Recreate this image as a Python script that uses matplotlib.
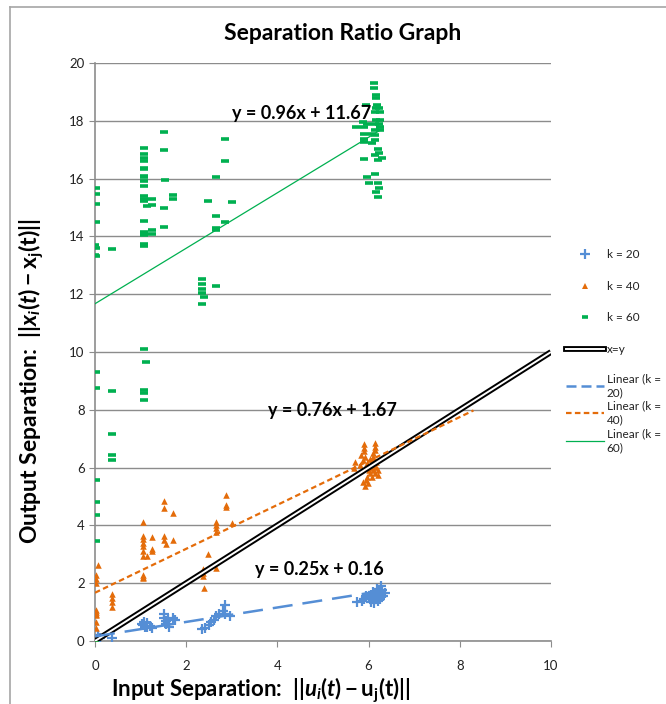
import numpy as np
import matplotlib
matplotlib.use("Agg")
import matplotlib.pyplot as plt
from matplotlib.lines import Line2D

plt.rcParams['font.family'] = ['Lato', 'DejaVu Sans']
plt.rcParams['mathtext.fontset'] = 'custom'
plt.rcParams['mathtext.rm'] = 'Lato:bold'
plt.rcParams['mathtext.bf'] = 'Lato:bold'
plt.rcParams['mathtext.it'] = 'Lato:italic:bold'

# ---- data ----
k20_x = [0.0, 0.07, 0.10, 0.38,
         1.02, 1.06, 1.10, 1.15, 1.20, 1.25, 1.07, 1.13,
         1.52, 1.52, 1.55, 1.55, 1.60, 1.70, 1.75, 1.62,
         2.35, 2.42, 2.50, 2.55, 2.62, 2.65, 2.72, 2.80, 2.85, 2.85, 2.95,
         5.75, 5.85, 5.90, 5.95, 6.00, 6.05, 6.08, 6.10, 6.12, 6.15, 6.18,
         6.20, 6.22, 6.25, 6.28, 6.30, 6.32, 6.20, 6.05, 6.35, 6.12, 6.26]
k20_y = [0.03, 0.21, 0.09, 0.12,
         0.60, 0.55, 0.50, 0.48, 0.52, 0.46, 0.66, 0.62,
         0.92, 0.80, 0.70, 0.58, 0.75, 0.80, 0.72, 0.50,
         0.40, 0.45, 0.55, 0.65, 0.72, 0.85, 0.92, 1.05, 1.25, 0.95, 0.88,
         1.35, 1.40, 1.45, 1.55, 1.50, 1.60, 1.45, 1.70, 1.55, 1.65, 1.80,
         1.50, 1.70, 1.60, 1.90, 1.75, 1.55, 1.40, 1.35, 1.65, 1.30, 1.45]

k40_x = [0.07, 0.02, 0.02, 0.02, 0.02, 0.02, 0.02, 0.02, 0.02, 0.02, 0.02, 0.02,
         0.38, 0.38, 0.38, 0.38,
         1.06, 1.06, 1.06, 1.06, 1.06, 1.06, 1.06, 1.06, 1.06, 1.06, 1.13,
         1.26, 1.26, 1.26, 1.51, 1.51, 1.51, 1.51, 1.56, 1.72, 1.72,
         2.36, 2.36, 2.36, 2.40, 2.48, 2.65, 2.66, 2.66, 2.66, 2.66,
         2.87, 2.87, 2.87, 3.00,
         5.91, 5.91, 5.90, 6.14, 6.14, 6.13, 6.10, 6.09, 6.07, 6.12, 6.16, 6.05,
         6.02, 6.10, 6.17, 6.00, 6.10, 6.21, 6.04, 6.14, 5.96, 6.07, 6.21, 5.95,
         5.88, 5.99, 5.92, 5.70, 5.81, 5.67, 5.88, 5.92, 5.84, 5.96, 6.02]
k40_y = [2.63, 2.28, 2.15, 2.00, 1.07, 1.01, 0.95, 0.90, 0.67, 0.44, 0.15, 0.05,
         1.63, 1.48, 1.36, 1.19,
         4.13, 3.63, 3.52, 3.40, 3.29, 3.10, 2.93, 2.28, 2.22, 2.17, 2.94,
         3.59, 3.20, 3.10, 4.85, 4.59, 3.63, 3.49, 3.36, 4.44, 3.49,
         2.48, 2.36, 2.25, 1.82, 3.01, 2.51, 4.13, 4.01, 3.90, 3.78,
         5.05, 4.71, 4.63, 4.07,
         6.82, 6.67, 6.58, 6.84, 6.72, 6.61, 6.49, 6.38, 6.29, 6.20, 6.20, 6.15,
         6.03, 6.03, 6.03, 5.92, 5.92, 5.92, 5.80, 5.80, 5.69, 5.69, 5.74, 5.57,
         5.51, 5.46, 5.36, 6.20, 6.09, 5.98, 6.26, 6.38, 6.44, 6.17, 6.29]

k60_x = [0.02, 0.03, 0.03, 0.02, 0.00, 0.02, 0.00, 0.02, 0.03, 0.03,
         0.02, 0.02, 0.02, 0.02, 0.00,
         0.38, 0.38, 0.38, 0.38, 0.38,
         1.07, 1.07, 1.07, 1.07, 1.07, 1.07, 1.07, 1.07, 1.07, 1.07, 1.07, 1.07,
         1.07, 1.07, 1.07, 1.07, 1.07, 1.07, 1.07, 1.07, 1.07, 1.07, 1.07,
         1.12, 1.15, 1.26, 1.26, 1.26, 1.26,
         1.51, 1.51, 1.51, 1.51, 1.54, 1.70, 1.70,
         2.35, 2.35, 2.35, 2.35, 2.39, 2.35, 2.47,
         2.65, 2.65, 2.65, 2.65, 2.65, 2.86, 2.86, 2.86, 3.01,
         6.11, 6.12, 6.16, 6.17, 5.94, 6.19, 6.16, 6.22, 6.14, 6.24, 5.87, 6.17,
         6.24, 5.96, 6.13, 6.22, 6.24, 5.72, 5.91, 6.13, 6.24, 5.89, 6.08, 6.15,
         5.89, 5.89, 6.15, 6.08, 6.20, 6.22, 6.15, 6.29, 6.20, 5.89, 6.15, 5.96,
         6.00, 6.21, 6.22, 6.21, 6.17]
k60_y = [15.69, 15.47, 15.11, 14.51, 13.70, 13.59, 13.36, 13.32, 9.30, 8.75,
         5.58, 4.81, 4.35, 3.47, 0.05,
         13.58, 8.64, 7.15, 6.44, 6.26,
         17.07, 16.86, 16.72, 16.61, 16.38, 16.32, 16.09, 16.07, 15.93, 15.75, 15.40,
         15.28, 15.24, 14.53, 14.15, 14.08, 14.04, 13.74, 13.67, 10.10, 8.69, 8.57, 8.33,
         9.66, 15.04, 15.28, 15.08, 14.22, 14.08,
         17.60, 16.99, 14.99, 14.33, 15.96, 15.42, 15.30,
         12.52, 12.34, 12.17, 12.05, 11.91, 11.66, 15.21,
         16.07, 14.71, 14.28, 14.23, 12.27, 17.38, 16.60, 14.50, 15.20,
         19.30, 19.12, 18.91, 18.79, 18.54, 18.56, 18.45, 18.45, 18.31, 18.31, 17.97, 18.04,
         18.04, 17.90, 17.88, 17.90, 17.79, 17.77, 17.77, 17.68, 17.68, 17.56, 17.56, 17.51,
         17.36, 17.28, 17.34, 17.22, 17.01, 16.90, 16.82, 16.70, 16.65, 16.67, 16.16, 16.05,
         15.86, 15.84, 15.67, 15.36, 15.52]

# linear trendlines (slope, intercept) as printed on the chart
k20_fit = (0.25, 0.16)
k40_fit = (0.76, 1.67)
k60_fit = (0.96, 11.67)
k40_forecast_end = 8.3

identity_x = [0, 10]

blue = '#558ED5'
orange = '#E46C0A'
green = '#00B050'
grid_c = '#8C8C8C'

fig = plt.figure(figsize=(6.66, 7.04), dpi=100)
ax = fig.add_axes([95 / 666, 1 - 641 / 704, 456 / 666, 578 / 704])

ax.scatter(k20_x, k20_y, marker='+', s=55, linewidths=1.6, color=blue, zorder=3)
ax.scatter(k40_x, k40_y, marker='^', s=22, linewidths=0, color=orange, zorder=3)
ax.scatter(k60_x, k60_y, marker='_', s=28, linewidths=2.6, color=green, zorder=3)

# x=y double line
ax.plot(identity_x, identity_x, color='black', lw=4.2, zorder=4, solid_capstyle='butt')
ax.plot(identity_x, identity_x, color='white', lw=1.4, zorder=4, solid_capstyle='butt')

def trend(fit, x_end):
    xs = np.array([0, x_end])
    return xs, fit[0] * xs + fit[1]

tx, ty = trend(k20_fit, max(k20_x))
ax.plot(tx, ty, color=blue, lw=1.8, dashes=(8, 4), zorder=5)
tx, ty = trend(k40_fit, k40_forecast_end)
ax.plot(tx, ty, color=orange, lw=1.6, dashes=(2.5, 1.5), zorder=5)
tx, ty = trend(k60_fit, max(k60_x))
ax.plot(tx, ty, color=green, lw=0.9, zorder=5)

ax.text(4.93, 2.46, 'y = 0.25x + 0.16', fontsize=13, fontweight='bold', ha='center', va='center')
ax.text(5.2, 7.96, 'y = 0.76x + 1.67', fontsize=13, fontweight='bold', ha='center', va='center')
ax.text(4.54, 18.25, 'y = 0.96x + 11.67', fontsize=13, fontweight='bold', ha='center', va='center')

ax.set_xlim(0, 10)
ax.set_ylim(0, 20)
ax.set_xticks(range(0, 11, 2))
ax.set_yticks(range(0, 21, 2))
ax.yaxis.grid(True, color=grid_c, lw=1)
ax.set_axisbelow(True)
for s in ['top', 'right']:
    ax.spines[s].set_visible(False)
for s in ['left', 'bottom']:
    ax.spines[s].set_color(grid_c)
    ax.spines[s].set_linewidth(1.2)
ax.tick_params(axis='both', length=4, color=grid_c, labelsize=9.5, labelcolor='#222222')
ax.tick_params(axis='x', pad=10)

ax.set_xlabel(r'Input Separation:  $||\mathit{u_i(t)} - \mathrm{u_j(t)}||$',
              fontsize=16, fontweight='bold')
ax.set_ylabel(r'Output Separation:  $||\mathit{x_i(t)} - \mathrm{x_j(t)}||$',
              fontsize=16.5, fontweight='bold')
ax.xaxis.set_label_coords(0.363, -0.06)
ax.yaxis.set_label_coords(-0.108, 0.45)

fig.text(343 / 666, 1 - 33 / 704, 'Separation Ratio Graph', fontsize=16.5,
         fontweight='bold', ha='center', va='center')

# legends
h1 = [Line2D([], [], ls='none', marker='+', ms=7, mew=1.6, color=blue),
      Line2D([], [], ls='none', marker='^', ms=4.5, mew=0, color=orange),
      Line2D([], [], ls='none', marker='_', ms=5, mew=2.6, color=green),
      (Line2D([], [], color='black', lw=4.2), Line2D([], [], color='white', lw=1.4))]
leg1 = fig.legend(h1, ['k = 20', 'k = 40', 'k = 60', 'x=y'], loc='upper left',
                  bbox_to_anchor=(566 / 666, 1 - 249 / 704), frameon=False,
                  fontsize=8.5, handlelength=3.2, handletextpad=0.25, borderpad=0,
                  labelspacing=1.75, borderaxespad=0)
h2 = [Line2D([], [], color=blue, lw=1.8, dashes=(4, 2)),
      Line2D([], [], color=orange, lw=1.6, dashes=(2.5, 1.5)),
      Line2D([], [], color=green, lw=0.9)]
leg2 = fig.legend(h2, ['Linear (k =\n20)', 'Linear (k =\n40)', 'Linear (k =\n60)'],
                  loc='upper left', bbox_to_anchor=(566 / 666, 1 - 373 / 704),
                  frameon=False, fontsize=8.5, handlelength=3.2, handletextpad=0.25,
                  borderpad=0, labelspacing=0.2, borderaxespad=0)
for lg in (leg1, leg2):
    for t in lg.get_texts():
        t.set_color('#222222')
        t.set_linespacing(1.35)

# chart area border
fig.add_artist(Line2D([10 / 666, 10 / 666], [0, 1 - 7 / 704], color='#A6A6A6', lw=1.2))
fig.add_artist(Line2D([10 / 666, 1], [1 - 7 / 704, 1 - 7 / 704], color='#A6A6A6', lw=1.2))

fig.savefig('out.png', dpi=100)
